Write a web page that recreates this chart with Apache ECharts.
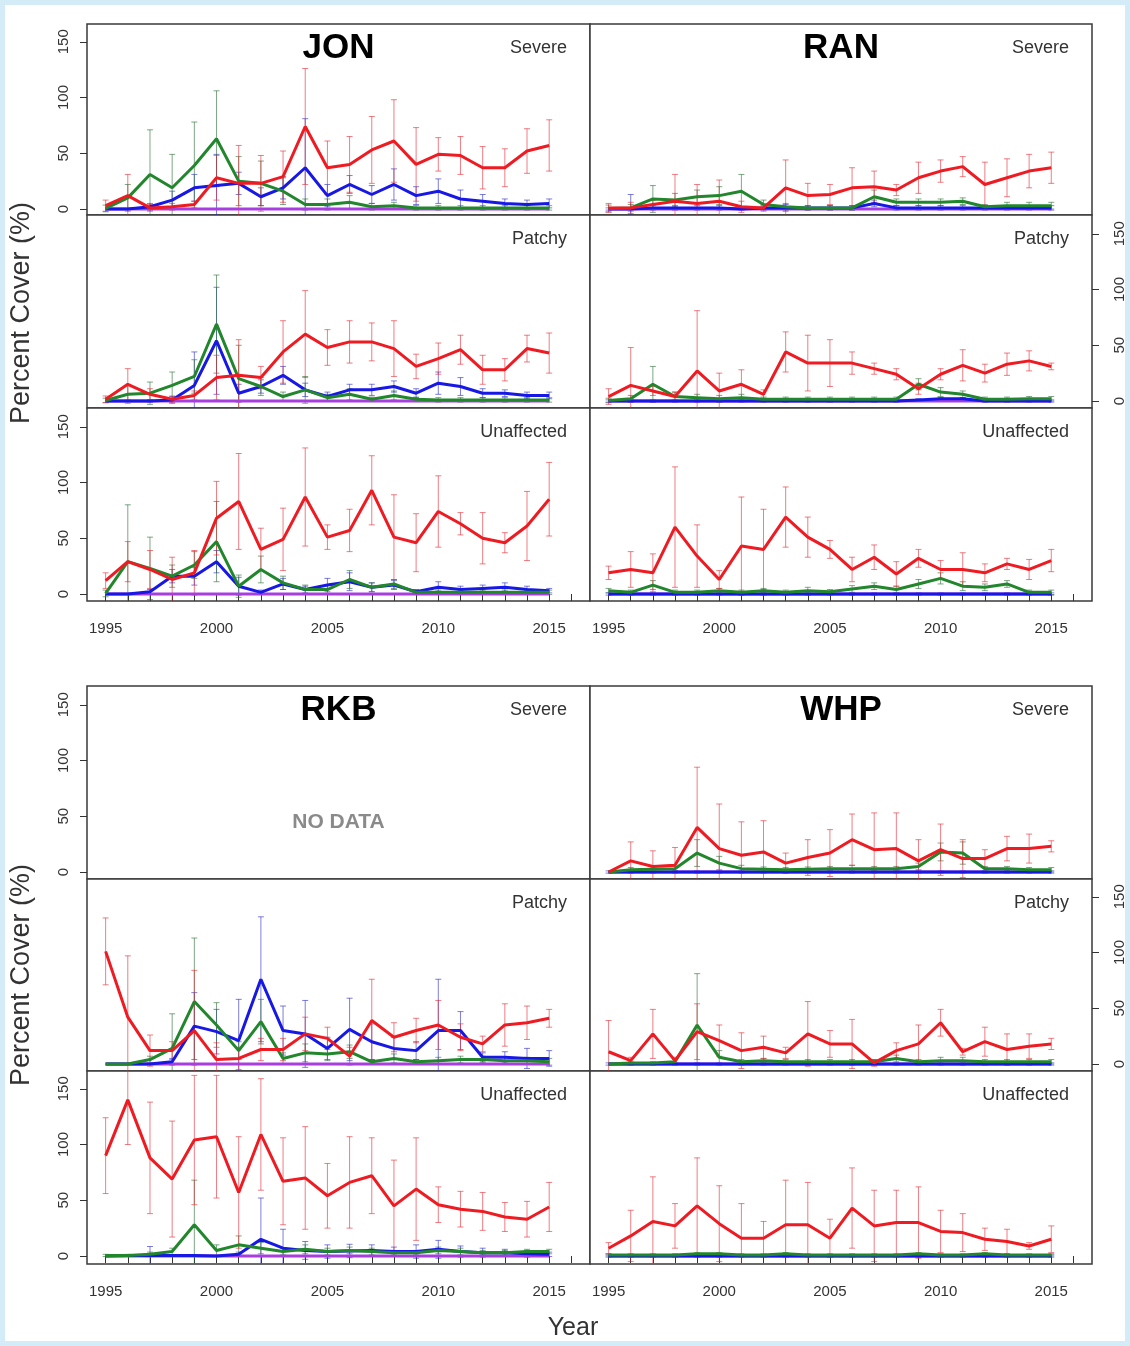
<!DOCTYPE html>
<html><head><meta charset="utf-8">
<script src="https://cdn.jsdelivr.net/npm/echarts@6/dist/echarts.min.js"></script>
<style>html,body{margin:0;padding:0;background:#fff;} #c{width:1130px;height:1346px;}</style>
</head><body><div id="c"></div><script>
// ---------------- DATA ----------------
const years = [1995,1996,1997,1998,1999,2000,2001,2002,2003,2004,2005,2006,2007,2008,2009,2010,2011,2012,2013,2014,2015];
const xTickYears = [1995,1996,1997,1998,1999,2000,2001,2002,2003,2004,2005,2006,2007,2008,2009,2010,2011,2012,2013,2014,2015,2016];
const xLabelYears = [1995,2000,2005,2010,2015];
const yTickValues = [0,50,100,150];
const zeros = [0,0,0,0,0,0,0,0,0,0,0,0,0,0,0,0,0,0,0,0,0];
const ones  = [1,1,1,1,1,1,1,1,1,1,1,1,1,1,1,1,1,1,1,1,1];

// JON Severe
const jonSevRed = [3,12,1,2,4,28,23,23,29,74,37,40,53,61,40,49,48,37,37,52,57];
const jonSevRedErr = [5,19,3,3,3,20,34,25,23,52,24,25,30,37,33,15,17,19,17,20,23];
const jonSevGreen = [0.5,10,31,19,39,63,25,23,16,4,4,6,2,3,1,1,1,1,1,1,1];
const jonSevGreenErr = [3,12,40,30,39,43,22,20,12,5,5,6,3,3,2,2,2,2,2,2,2];
const jonSevBlue = [0,0,2,8,19,21,23,11,19,37,12,22,13,22,12,16,9,7,5,4,5];
const jonSevBlueErr = [0,0,3,8,12,28,10,8,10,44,10,8,8,14,8,11,8,6,4,4,4];
// RAN Severe
const ranSevRed = [1,1,4,7,5,7,2,1,19,12,13,19,20,17,28,34,38,22,28,34,37];
const ranSevRedErr = [4,5,4,24,17,19,5,3,25,11,9,18,14,5,14,10,9,20,17,15,14];
const ranSevGreen = [0.5,1,9,8,11,12,16,4,2,1,1,1,11,6,6,6,7,2,3,3,3];
const ranSevGreenErr = [3,3,12,6,6,8,15,4,3,2,2,2,6,3,3,3,3,2,3,3,3];
const ranSevBlue = [0,0,1,1,1,1,0,1,1,1,1,1,5,1,1,1,1,1,1,1,1];
const ranSevBlueErr = [1,13,2,2,2,2,1,2,3,2,2,2,3,2,2,2,2,2,2,2,2];
// JON Patchy
const jonPatRed = [1.5,15,6,1.5,5,21,23,21,44,60,48,53,53,47,31,38,46,28,28,47,43];
const jonPatRedErr = [3,14,5,3,4,20,32,10,28,39,16,19,17,25,11,14,13,13,10,12,18];
const jonPatGreen = [0.5,6,7,14,22,69,20,13,4,10,3,6,1.5,5,1.5,1,1,1,1,1,1];
const jonPatGreenErr = [2,8,10,12,15,44,30,8,4,12,3,5,2,4,2,2,2,2,2,2,2];
const jonPatBlue = [0,0,0,1,14,54,7,13,23,10,4,10,10,13,7,16,13,7,7,5,5];
const jonPatBlueErr = [0,0,1,3,30,48,8,6,8,6,4,5,5,5,4,10,8,4,3,3,3];
// RAN Patchy
const ranPatRed = [4,14,9,4,27,9,15,6,44,34,34,34,29,24,11,24,32,25,33,36,31];
const ranPatRedErr = [7,34,4,4,54,16,13,4,18,25,21,10,5,5,5,5,14,8,10,9,3];
const ranPatGreen = [0.5,2,15,4,3,2,3,1.5,1.5,1.5,1.5,1.5,1.5,1.5,15,8,6,1.5,1.5,2,2];
const ranPatGreenErr = [2,3,16,4,3,3,3,2,2,2,2,2,2,2,5,4,3,2,2,2,2];
const ranPatBlue = [0,0,0,0,0,0,0,0,0,0,0,0,0,0,1,2,2,0,0,0,0];
// JON Unaffected
const jonUnaRed = [12,29,22,13,19,68,83,40,49,87,51,57,93,51,46,74,63,50,46,61,85];
const jonUnaRedErr = [7,18,17,20,20,33,43,19,28,44,11,19,31,38,26,32,10,23,9,31,33];
const jonUnaGreen = [0.5,29,23,16,26,47,7,22,10,4,4,13,6,9,1.5,1.5,1.5,1.5,1.5,1.5,1.5];
const jonUnaGreenErr = [3,51,28,10,12,36,10,12,6,4,4,8,4,4,2,2,2,2,2,2,2];
const jonUnaBlue = [0,0,2,16,16,29,7,1.5,9,4,8,11,6,8,2,6,4,5,6,4,3];
const jonUnaBlueErr = [0,0,2,6,8,10,8,2,5,3,6,8,4,4,2,5,3,3,4,3,2];
// RAN Unaffected
const ranUnaRed = [19,22,19,60,34,13,43,40,69,51,40,22,33,18,32,22,22,19,27,22,30];
const ranUnaRedErr = [6,16,17,54,28,8,44,36,27,18,8,11,11,11,8,8,15,8,5,9,10];
const ranUnaGreen = [3,1.5,8,1.5,1.5,3,1.5,3,1.5,3,2,4.5,7,4,9,14,7,6,9,1.5,1.5];
const ranUnaGreenErr = [2,2,4,2,2,2,2,2,2,3,2,3,3,3,4,5,4,3,3,2,2];
// WHP Severe
const whpSevRed = [0,10,5,6,40,21,15,18,8,13,17,29,20,21,10,20,12,12,21,21,23];
const whpSevRedErr = [0,17,14,16,54,40,30,28,9,16,21,23,33,32,19,23,17,8,11,13,5];
const whpSevGreen = [0,2,2.5,3,17,8,3,2.5,2,2.5,3,3,3,3,5,18,17,3,3,2,2];
const whpSevGreenErr = [0,2,2,2,12,6,3,2,2,2,2,3,2,2,3,8,10,2,2,2,2];
// RKB Patchy
const rkbPatRed = [101,42,12,12,30,4,5,13,13,27,23,7,39,24,30,35,24,18,35,37,41];
const rkbPatRedErr = [30,55,14,8,54,15,10,10,10,15,10,8,37,13,11,22,12,7,19,15,8];
const rkbPatGreen = [0,0,4,14,56,35,12,38,5,10,9,11,2,5,2,3,4,4,3,3,2];
const rkbPatGreenErr = [0,0,3,31,57,20,8,20,5,8,6,6,2,4,2,3,3,3,3,3,3];
const rkbPatBlue = [0,0,0,2,34,29,21,76,30,27,14,31,20,14,12,30,30,6,6,5,5];
const rkbPatBlueErr = [0,0,0,3,30,20,37,56,22,30,10,28,16,10,8,46,17,4,5,9,7];
// WHP Patchy
const whpPatRed = [11,3,27,3,29,21,12,15,10,27,18,18,1,12,18,37,11,20,13,16,18];
const whpPatRedErr = [28,3,22,3,25,14,16,10,5,29,12,22,3,7,17,12,3,13,14,11,5];
const whpPatGreen = [0,1,1,2,35,6,2,3,2,2,2,2,2,5,2,3,3,2,2,2,2];
const whpPatGreenErr = [0,1,1,2,46,6,2,2,2,2,2,2,2,3,2,3,3,2,2,2,2];
// RKB Unaffected
const rkbUnaRed = [90,140,88,69,104,107,57,109,67,70,54,66,72,45,60,46,42,40,35,33,44];
const rkbUnaRedErr = [34,40,50,52,58,55,50,50,39,46,29,41,34,41,46,16,16,17,13,16,22];
const rkbUnaGreen = [0.5,0.5,1.5,4,28,5,10,7,4,6,4,5,4,3,3,5,4,3,3,4,4];
const rkbUnaGreenErr = [1,1,2,3,40,5,8,5,3,4,3,3,3,2,2,3,3,2,2,2,2];
const rkbUnaBlue = [0,0.5,0.5,0.5,0.5,0,1.5,15,7,5,4,4.5,5,4,4,6,4,3,3,2,1.5];
const rkbUnaBlueErr = [0,0,8,0,0,0,2,37,17,8,6,6,5,4,6,8,5,4,3,3,2];
// WHP Unaffected
const whpUnaRed = [7,18,31,27,45,29,16,16,28,28,16,43,27,30,30,22,21,15,13,9,15];
const whpUnaRedErr = [5,23,40,20,43,34,31,15,40,38,17,36,32,29,32,19,17,10,11,3,12];
const whpUnaGreen = [1,1,1,1,2,2,1,1,2,1,1,1,1,1,2,1,1,2,1,1,1];

// ---------------- LAYOUT ----------------
const ROWS = [
  {top:24, h:191, zeroOff:6},
  {top:215, h:193, zeroOff:7},
  {top:408, h:193, zeroOff:7},
  {top:686, h:193, zeroOff:7},
  {top:879, h:192, zeroOff:7},
  {top:1071, h:193, zeroOff:8}
];
const COLS = [{left:87, w:503}, {left:590, w:502}];
const PXU = 1.115;
const XMIN = 1994.16, XMAX = 2016.84;

const C = {red:'#ee1b22', green:'#22862c', blue:'#1717e6', purple:'#a83ee0'};
const CE = {red:'rgba(228,40,50,0.6)', green:'rgba(40,110,50,0.6)', blue:'rgba(40,40,200,0.6)', purple:'rgba(160,60,220,0.5)'};

const panels = [
  {r:0,c:0,title:'JON',sub:'Severe',s:{red:[jonSevRed,jonSevRedErr],green:[jonSevGreen,jonSevGreenErr],blue:[jonSevBlue,jonSevBlueErr],purple:[zeros,zeros]}},
  {r:0,c:1,title:'RAN',sub:'Severe',s:{red:[ranSevRed,ranSevRedErr],green:[ranSevGreen,ranSevGreenErr],blue:[ranSevBlue,ranSevBlueErr],purple:[zeros,zeros]}},
  {r:1,c:0,sub:'Patchy',s:{red:[jonPatRed,jonPatRedErr],green:[jonPatGreen,jonPatGreenErr],blue:[jonPatBlue,jonPatBlueErr],purple:[zeros,zeros]}},
  {r:1,c:1,sub:'Patchy',s:{red:[ranPatRed,ranPatRedErr],green:[ranPatGreen,ranPatGreenErr],blue:[ranPatBlue,ones],purple:[zeros,zeros]}},
  {r:2,c:0,sub:'Unaffected',s:{red:[jonUnaRed,jonUnaRedErr],green:[jonUnaGreen,jonUnaGreenErr],blue:[jonUnaBlue,jonUnaBlueErr],purple:[zeros,zeros]}},
  {r:2,c:1,sub:'Unaffected',s:{red:[ranUnaRed,ranUnaRedErr],green:[ranUnaGreen,ranUnaGreenErr],blue:[zeros,ones],purple:[zeros,zeros]}},
  {r:3,c:0,title:'RKB',sub:'Severe',nodata:true,s:null},
  {r:3,c:1,title:'WHP',sub:'Severe',s:{red:[whpSevRed,whpSevRedErr],green:[whpSevGreen,whpSevGreenErr],blue:[zeros,ones],purple:[zeros,zeros]}},
  {r:4,c:0,sub:'Patchy',s:{red:[rkbPatRed,rkbPatRedErr],green:[rkbPatGreen,rkbPatGreenErr],blue:[rkbPatBlue,rkbPatBlueErr],purple:[zeros,zeros]}},
  {r:4,c:1,sub:'Patchy',s:{red:[whpPatRed,whpPatRedErr],green:[whpPatGreen,whpPatGreenErr],blue:[zeros,ones],purple:[zeros,zeros]}},
  {r:5,c:0,sub:'Unaffected',s:{red:[rkbUnaRed,rkbUnaRedErr],green:[rkbUnaGreen,rkbUnaGreenErr],blue:[rkbUnaBlue,rkbUnaBlueErr],purple:[zeros,zeros]}},
  {r:5,c:1,sub:'Unaffected',s:{red:[whpUnaRed,whpUnaRedErr],green:[whpUnaGreen,ones],blue:[zeros,ones],purple:[zeros,zeros]}}
];

const FONT = '"Liberation Sans", Arial, Helvetica, sans-serif';
const grids=[], xAxes=[], yAxes=[], series=[], graphics=[];

// background border
graphics.push({type:'rect', z:-10, shape:{x:0,y:0,width:1130,height:1346}, style:{fill:'#d3ecf8'}});
graphics.push({type:'rect', z:-9, shape:{x:5,y:5,width:1120,height:1336}, style:{fill:'#ffffff'}});

function errSeries(gi, col, vals, errs, ymin, ymax){
  return {
    type:'custom', xAxisIndex:gi, yAxisIndex:gi, silent:true, z:2,
    data: years.map((y,i)=>[y, vals[i], errs[i]]),
    renderItem: function(params, api){
      const x=api.value(0), v=api.value(1), e=api.value(2);
      if(!e) return null;
      const hiV=Math.min(v+e, ymax), loV=Math.max(v-e, ymin);
      const p1=api.coord([x,hiV]), p2=api.coord([x,loV]);
      const st={stroke:col, lineWidth:1};
      const ch=[{type:'line', shape:{x1:p1[0],y1:p1[1],x2:p2[0],y2:p2[1]}, style:st}];
      if(v+e<=ymax) ch.push({type:'line', shape:{x1:p1[0]-3,y1:p1[1],x2:p1[0]+3,y2:p1[1]}, style:st});
      if(v-e>=ymin) ch.push({type:'line', shape:{x1:p2[0]-3,y1:p2[1],x2:p2[0]+3,y2:p2[1]}, style:st});
      return {type:'group', children:ch};
    }
  };
}

panels.forEach((p, gi)=>{
  const row=ROWS[p.r], col=COLS[p.c];
  const ymin = -row.zeroOff/PXU, ymax = (row.h-row.zeroOff)/PXU;
  grids.push({left:col.left, top:row.top, width:col.w, height:row.h, show:true,
    borderColor:'#3a3a3a', borderWidth:1.5, backgroundColor:'#fff', containLabel:false, outerBoundsMode:'none'});
  const bottomRow = (p.r===2 || p.r===5);
  xAxes.push({type:'value', gridIndex:gi, min:XMIN, max:XMAX, position:'bottom',
    axisLine:{show:false}, splitLine:{show:false},
    axisTick:{show:bottomRow, inside:false, length:7, customValues:xTickYears, lineStyle:{color:'#333', width:1}},
    axisLabel:{show:bottomRow, customValues:xLabelYears, margin:20, fontSize:15, color:'#333', fontFamily:FONT, formatter:v=>String(v)}});
  const leftLab = p.c===0 && (p.r===0 || p.r===2 || p.r===3 || p.r===5);
  const rightLab = p.c===1 && (p.r===1 || p.r===4);
  yAxes.push({type:'value', gridIndex:gi, min:ymin, max:ymax, position: rightLab?'right':'left',
    axisLine:{show:false}, splitLine:{show:false},
    axisTick:{show:leftLab||rightLab, inside:false, length:7, customValues:yTickValues, lineStyle:{color:'#333', width:1}},
    axisLabel:{show:leftLab||rightLab, customValues:yTickValues, rotate:90, margin: rightLab?20:16, fontSize:15, color:'#333', fontFamily:FONT, formatter:v=>String(v)}});

  const right = col.left+col.w;
  graphics.push({type:'text', z:50, x:right-23, y:row.top+24, style:{text:p.sub, font:'18px '+FONT, fill:'#333', textAlign:'right', textVerticalAlign:'middle'}});
  if(p.title){
    graphics.push({type:'text', z:50, x:col.left+col.w/2, y:row.top+24, style:{text:p.title, font:'bold 35px '+FONT, fill:'#000', textAlign:'center', textVerticalAlign:'middle'}});
  }
  if(p.nodata){
    graphics.push({type:'text', z:50, x:col.left+col.w/2, y:822, style:{text:'NO DATA', font:'bold 21px '+FONT, fill:'#8a8a8a', textAlign:'center', textVerticalAlign:'middle'}});
  }
  if(p.s){
    ['purple','blue','green','red'].forEach(k=>{
      const [v,e]=p.s[k];
      series.push(errSeries(gi, CE[k], v, e, ymin, ymax));
    });
    ['purple','blue','green','red'].forEach((k,ki)=>{
      const [v]=p.s[k];
      series.push({type:'line', xAxisIndex:gi, yAxisIndex:gi, silent:true, z:3+ki, clip:true,
        data: years.map((y,i)=>[y, v[i]]), showSymbol:false, symbol:'none',
        lineStyle:{color:C[k], width:3}});
    });
  }
});

// axis titles
graphics.push({type:'text', z:50, x:22, y:313, rotation:Math.PI/2, style:{text:'Percent Cover (%)', font:'27px '+FONT, fill:'#333', textAlign:'center', textVerticalAlign:'middle'}});
graphics.push({type:'text', z:50, x:22, y:975, rotation:Math.PI/2, style:{text:'Percent Cover (%)', font:'27px '+FONT, fill:'#333', textAlign:'center', textVerticalAlign:'middle'}});
graphics.push({type:'text', z:50, x:573, y:1328, style:{text:'Year', font:'25px '+FONT, fill:'#333', textAlign:'center', textVerticalAlign:'middle'}});

const chart = echarts.init(document.getElementById('c'), null, {renderer:'canvas'});
chart.setOption({
  animation:false,
  backgroundColor:'#fff',
  grid:grids, xAxis:xAxes, yAxis:yAxes, series:series,
  graphic:{elements:graphics}
});
</script></body></html>
